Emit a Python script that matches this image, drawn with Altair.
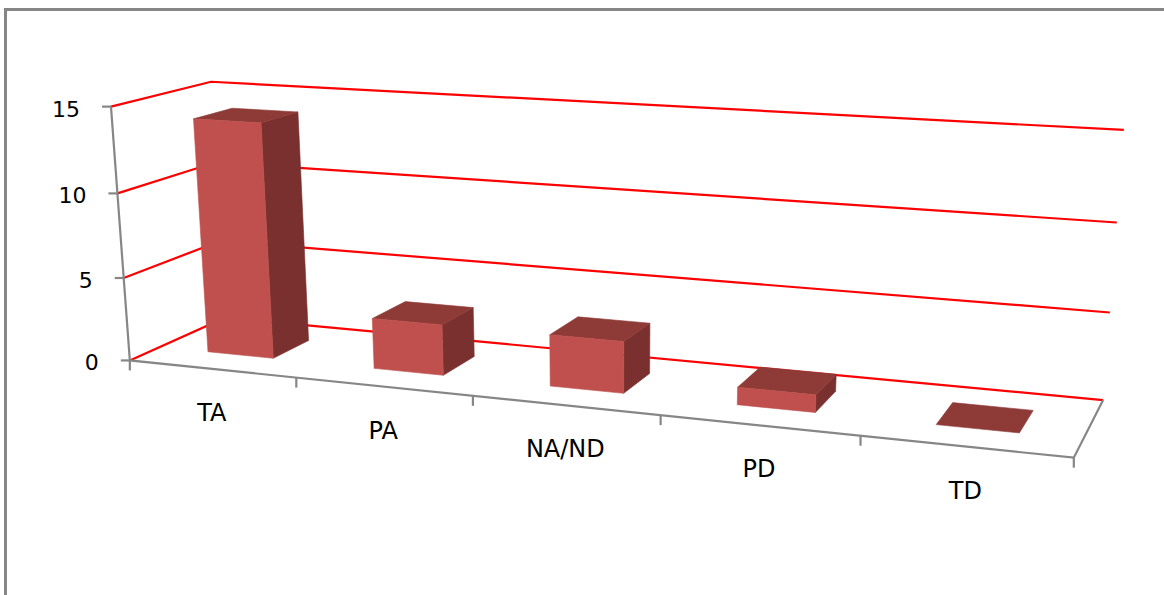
import numpy as np
import pandas as pd
import altair as alt

# ---- data -------------------------------------------------------------
categories = ["TA", "PA", "NA/ND", "PD", "TD"]
counts = [14, 3, 3, 1, 0]
value_ticks = [0, 5, 10, 15]

# ---- page / style -----------------------------------------------------
W, H = 1164, 595
FRONT = "#C0504D"
TOP = "#8E3B38"
SIDE = "#7A302E"
GRID = "#FF0000"
AXIS = "#868686"
FONT = "DejaVu Sans"

# Bar footprint inside a category slot and inside the floor depth
BAR_LO, BAR_HI = 0.3, 0.7
DEPTH_LO, DEPTH_HI = 0.3, 0.7

# Perspective camera: reference points in (category, value, depth) space
# and where they sit on the page.
cam_world = [
    (0, 0, 0), (0, 5, 0), (0, 10, 0), (0, 15, 0),
    (1, 0, 0), (2, 0, 0), (3, 0, 0), (4, 0, 0), (5, 0, 0),
    (0, 15, 1), (5, 15, 1), (5, 10, 1), (5, 5, 1), (5, 0, 1),
]
cam_page = [
    (130.0, 359.5), (123.5, 277.0), (118.3, 193.3), (110.7, 106.0),
    (296.0, 378.0), (473.3, 396.7), (660.0, 416.7), (861.0, 437.3), (1073.3, 456.0),
    (210.7, 82.7), (1124.0, 130.0), (1116.7, 222.7), (1110.0, 312.0), (1103.3, 399.3),
]


def normaliser(pts):
    pts = np.asarray(pts, float)
    c = pts.mean(axis=0)
    d = np.sqrt(((pts - c) ** 2).sum(axis=1)).mean()
    s = np.sqrt(pts.shape[1]) / d
    T = np.eye(pts.shape[1] + 1)
    T[:-1, :-1] *= s
    T[:-1, -1] = -s * c
    return T


def fit_camera(world, page):
    world = np.asarray(world, float)
    page = np.asarray(page, float)
    Tw, Tp = normaliser(world), normaliser(page)
    wh = (Tw @ np.c_[world, np.ones(len(world))].T).T
    ph = (Tp @ np.c_[page, np.ones(len(page))].T).T
    rows = []
    for (X, Y, Z, _), (x, y, _) in zip(wh, ph):
        rows.append([X, Y, Z, 1, 0, 0, 0, 0, -x * X, -x * Y, -x * Z, -x])
        rows.append([0, 0, 0, 0, X, Y, Z, 1, -y * X, -y * Y, -y * Z, -y])
    _, _, vt = np.linalg.svd(np.array(rows))
    P = vt[-1].reshape(3, 4)
    return np.linalg.inv(Tp) @ P @ Tw


CAM = fit_camera(cam_world, cam_page)


def project(u, v, w):
    h = CAM @ np.array([u, v, w, 1.0])
    return float(h[0] / h[2]), float(h[1] / h[2])


n = len(categories)
vmax = value_ticks[-1]

# ---- bar faces --------------------------------------------------------
face_rows = []
for i, (cat, val) in enumerate(zip(categories, counts)):
    x0, x1 = i + BAR_LO, i + BAR_HI
    z0, z1 = DEPTH_LO, DEPTH_HI
    faces = {
        "top": [(x0, val, z0), (x1, val, z0), (x1, val, z1), (x0, val, z1)],
    }
    if val > 0:
        faces["side"] = [(x1, 0, z0), (x1, 0, z1), (x1, val, z1), (x1, val, z0)]
        faces["front"] = [(x0, 0, z0), (x1, 0, z0), (x1, val, z0), (x0, val, z0)]
    for face, corners in faces.items():
        for k, c in enumerate(corners + [corners[0]]):
            px, py = project(*c)
            face_rows.append(dict(key=f"{cat}-{face}", face=face, k=k, px=px, py=py))
faces_df = pd.DataFrame(face_rows)

# ---- walls: gridlines on side and back wall ---------------------------
grid_rows = []
for t in value_ticks:
    for k, c in enumerate([(0, t, 0), (0, t, 1), (n, t, 1)]):
        px, py = project(*c)
        grid_rows.append(dict(key=f"g{t}", k=k, px=px, py=py))
grid_df = pd.DataFrame(grid_rows)

# ---- axes -------------------------------------------------------------
axis_rows = []
for k, c in enumerate([(0, vmax, 0), (0, 0, 0), (n, 0, 0), (n, 0, 1)]):
    px, py = project(*c)
    axis_rows.append(dict(key="axis", k=k, px=px, py=py))
axis_df = pd.DataFrame(axis_rows)

tick_rows = []
for t in value_ticks:
    px, py = project(0, t, 0)
    tick_rows.append(dict(px=px, py=py, px2=px - 9, py2=py))
for k in range(n + 1):
    px, py = project(k, 0, 0)
    tick_rows.append(dict(px=px, py=py, px2=px, py2=py + 10))
tick_df = pd.DataFrame(tick_rows)

ylab_rows = []
for t in value_ticks:
    px, py = project(0, t, 0)
    ylab_rows.append(dict(px=px - 31, py=py + 3, label=str(t)))
ylab_df = pd.DataFrame(ylab_rows)

xlab_rows = []
for i, cat in enumerate(categories):
    px, py = project(i + 0.5, 0, 0)
    xlab_rows.append(dict(px=px, py=py + 45, label=cat))
xlab_df = pd.DataFrame(xlab_rows)

frame_df = pd.DataFrame(dict(key=["f", "f", "f"], k=[0, 1, 2],
                             px=[5.5, 5.5, W], py=[H, 9.5, 9.5]))

# ---- encodings --------------------------------------------------------
xs = alt.Scale(domain=[0, W], nice=False, zero=False)
ys = alt.Scale(domain=[0, H], reverse=True, nice=False, zero=False)
X = alt.X("px:Q", scale=xs, axis=None)
Y = alt.Y("py:Q", scale=ys, axis=None)

frame = alt.Chart(frame_df).mark_line(stroke=AXIS, strokeWidth=3).encode(
    x=X, y=Y, detail="key:N", order="k:Q")

grid = alt.Chart(grid_df).mark_line(stroke=GRID, strokeWidth=2.2).encode(
    x=X, y=Y, detail="key:N", order="k:Q")

axes = alt.Chart(axis_df).mark_line(stroke=AXIS, strokeWidth=2.2).encode(
    x=X, y=Y, detail="key:N", order="k:Q")

ticks = alt.Chart(tick_df).mark_rule(stroke=AXIS, strokeWidth=2.2).encode(
    x=X, y=Y, x2="px2:Q", y2="py2:Q")


def face_layer(name, color):
    return alt.Chart(faces_df[faces_df.face == name]).mark_line(
        fill=color, stroke=color, strokeWidth=0.6, strokeJoin="round"
    ).encode(x=X, y=Y, detail="key:N", order="k:Q")


sides = face_layer("side", SIDE)
tops = face_layer("top", TOP)
fronts = face_layer("front", FRONT)

ylabels = alt.Chart(ylab_df).mark_text(
    align="right", baseline="middle", font=FONT, fontSize=22, color="#000000"
).encode(x=X, y=Y, text="label:N")

xlabels = alt.Chart(xlab_df).mark_text(
    align="center", baseline="middle", font=FONT, fontSize=24, color="#000000"
).encode(x=X, y=Y, text="label:N")

chart = alt.layer(
    frame, grid, axes, ticks, sides, tops, fronts, ylabels, xlabels
).properties(
    width=W, height=H,
    autosize=alt.AutoSizeParams(type="none"),
    padding=0,
    background="#FFFFFF",
).configure_view(strokeWidth=0)

chart.save("out.html", embed_options={"renderer": "svg", "actions": False})
